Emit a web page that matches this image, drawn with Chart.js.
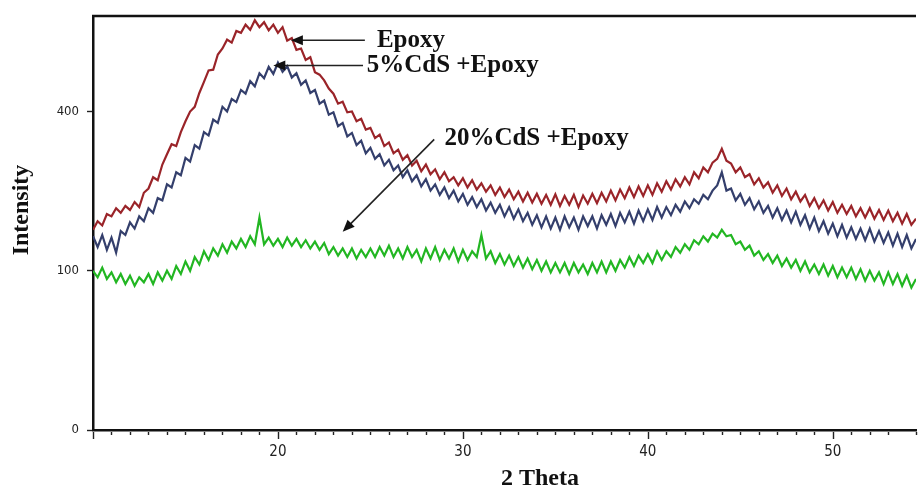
<!DOCTYPE html>
<html>
<head>
<meta charset="utf-8">
<script src="https://cdn.jsdelivr.net/npm/chart.js@4/dist/chart.umd.min.js"></script>
<style>
	body { margin: 0; background: #fff; }
	canvas { display: block; }
</style>
</head>
<body>
<canvas id="xrd-chart" width="921" height="490"></canvas>
<script>
// 2 Theta positions (deg)
var theta = [
	10,10.25,10.5,10.75, 11,11.25,11.5,11.75, 12,12.25,12.5,12.75, 13,13.25,13.5,13.75,
	14,14.25,14.5,14.75, 15,15.25,15.5,15.75, 16,16.25,16.5,16.75, 17,17.25,17.5,17.75,
	18,18.25,18.5,18.75, 19,19.25,19.5,19.75, 20,20.25,20.5,20.75, 21,21.25,21.5,21.75,
	22,22.25,22.5,22.75, 23,23.25,23.5,23.75, 24,24.25,24.5,24.75, 25,25.25,25.5,25.75,
	26,26.25,26.5,26.75, 27,27.25,27.5,27.75, 28,28.25,28.5,28.75, 29,29.25,29.5,29.75,
	30,30.25,30.5,30.75, 31,31.25,31.5,31.75, 32,32.25,32.5,32.75, 33,33.25,33.5,33.75,
	34,34.25,34.5,34.75, 35,35.25,35.5,35.75, 36,36.25,36.5,36.75, 37,37.25,37.5,37.75,
	38,38.25,38.5,38.75, 39,39.25,39.5,39.75, 40,40.25,40.5,40.75, 41,41.25,41.5,41.75,
	42,42.25,42.5,42.75, 43,43.25,43.5,43.75, 44,44.25,44.5,44.75, 45,45.25,45.5,45.75,
	46,46.25,46.5,46.75, 47,47.25,47.5,47.75, 48,48.25,48.5,48.75, 49,49.25,49.5,49.75,
	50,50.25,50.5,50.75, 51,51.25,51.5,51.75, 52,52.25,52.5,52.75, 53,53.25,53.5,53.75,
	54,54.25,54.5
];

// Intensity, Epoxy
var epoxy = [
	158,172,165,184, 180,194,186,198, 191,205,196,222, 230,252,246,278,
	300,322,318,350, 376,400,412,448, 478,510,512,556, 574,601,592,628,
	622,648,632,662, 640,656,630,648, 622,640,598,606, 570,574,540,548,
	505,498,482,460, 446,420,425,398, 400,376,382,356, 360,336,344,318,
	326,302,310,288, 298,276,286,264, 278,258,268,248, 262,244,252,236,
	250,232,246,228, 240,224,236,218, 232,214,228,210, 224,206,222,204,
	220,202,218,200, 219,198,216,200, 218,196,217,202, 220,203,222,206,
	226,208,228,212, 232,214,234,216, 236,218,240,224, 244,228,248,234,
	252,238,262,250, 272,262,282,290, 312,286,280,262, 272,252,258,238,
	250,232,242,222, 236,216,230,210, 224,206,218,198, 212,194,208,190,
	205,186,200,184, 198,180,194,178, 194,176,191,174, 190,172,186,168,
	184,166,176
];

// Intensity, 5%CdS +Epoxy
var cds5 = [
	148,132,150,128, 146,124,156,150, 170,160,180,172, 194,186,212,208,
	238,232,262,256, 292,284,320,312, 350,342,380,372, 412,400,432,424,
	456,446,480,466, 502,488,520,500, 532,506,522,490, 502,470,482,448,
	456,420,428,392, 398,364,372,340, 348,320,330,302, 314,290,300,276,
	288,266,276,252, 266,244,256,234, 248,226,238,218, 232,212,226,206,
	220,200,214,196, 210,190,204,186, 200,180,196,176, 192,172,186,166,
	182,162,180,160, 178,158,180,162, 178,158,180,164, 180,160,182,166,
	184,164,186,170, 188,168,190,172, 192,174,196,178, 196,182,200,188,
	206,194,210,202, 218,210,226,236, 262,226,230,208, 220,200,212,192,
	206,186,198,178, 194,174,190,170, 188,166,182,160, 178,156,172,152,
	168,148,166,146, 162,144,160,142, 160,140,156,138, 154,134,152,132,
	150,130,144
];

// Intensity, 20%CdS +Epoxy
var cds20 = [
	100,92,104,90, 98,86,96,84, 94,82,92,86, 96,84,98,88,
	100,90,106,96, 112,100,118,108, 126,114,130,120, 136,124,140,130,
	144,132,148,136, 178,136,146,134, 144,132,146,134, 144,132,142,130,
	140,128,138,122, 132,120,130,118, 130,116,128,118, 130,118,132,120,
	134,118,130,116, 132,118,128,112, 130,116,132,114, 128,116,130,112,
	128,114,126,118, 150,116,126,110, 122,108,120,106, 118,104,116,102,
	114,100,112,98, 110,98,110,96, 110,98,108,96, 110,98,112,98,
	112,100,114,104, 118,106,120,110, 122,110,126,114, 126,118,132,124,
	136,128,142,136, 148,140,152,146, 158,148,150,136, 140,128,134,120,
	126,114,122,110, 120,106,116,104, 114,100,112,98, 108,96,108,94,
	106,92,104,92, 104,90,102,88, 100,88,98,84, 98,84,96,82,
	94,80,90
];

var yTicks = [0, 100, 400];
var xTickLabels = [20, 30, 40, 50];

// labels with their arrows: [text, text theta, text intensity, arrow from theta, from intensity, tip theta, tip intensity]
var notes = [
	["Epoxy", 25.35, 599, 24.7, 599, 20.7, 599],
	["5%CdS +Epoxy", 24.8, 524, 24.6, 524, 19.75, 524],
	["20%CdS +Epoxy", 29.0, 335, 28.45, 333, 23.5, 155]
];

function toPoints(values){
	return values.map(function(v, i) {
		return { x: theta[i], y: Math.sqrt(v) };
	});
}

var narrow = "'Liberation Sans Narrow', 'DejaVu Sans Condensed', sans-serif";
var serif = "'Liberation Serif', 'DejaVu Serif', serif";

var framePlugin = {
	id: 'frame',
	afterDraw: function(chart){
		var ctx = chart.ctx;
		var area = chart.chartArea;
		var xs = chart.scales.x, ys = chart.scales.y;

		ctx.save();
		// top edge of the frame
		ctx.strokeStyle = '#111';
		ctx.lineWidth = 2.5;
		ctx.beginPath();
		ctx.moveTo(area.left - 1, area.top);
		ctx.lineTo(area.right, area.top);
		ctx.stroke();

		// x ticks below the axis line, long at every 10, short at every degree
		ctx.lineWidth = 1.4;
		ctx.strokeStyle = '#222';
		var y0 = area.bottom + 2;
		for (t of xs.ticks) {
			var px = Math.round(xs.getPixelForValue(t.value)) + 0.5;
			var len = (t.value % 10 === 0) ? 7 : 3;
			ctx.beginPath();
			ctx.moveTo(px, y0);
			ctx.lineTo(px, y0 + len);
			ctx.stroke();
		}

		// axis titles
		ctx.fillStyle = '#111';
		ctx.font = 'bold 24px ' + serif;
		ctx.textAlign = 'center';
		ctx.textBaseline = 'middle';
		ctx.fillText('2 Theta', 540, 479);
		ctx.save();
		ctx.translate(22, 210);
		ctx.rotate(-Math.PI / 2);
		ctx.fillText('Intensity', 0, 0);
		ctx.restore();

		// labels with arrows
		ctx.font = 'bold 25px ' + serif;
		ctx.textAlign = 'left';
		for (n of notes) {
			ctx.fillText(n[0], xs.getPixelForValue(n[1]), ys.getPixelForValue(Math.sqrt(n[2])));

			var x1 = xs.getPixelForValue(n[3]), y1 = ys.getPixelForValue(Math.sqrt(n[4]));
			var x2 = xs.getPixelForValue(n[5]), y2 = ys.getPixelForValue(Math.sqrt(n[6]));
			var a = Math.atan2(y2 - y1, x2 - x1);
			ctx.strokeStyle = '#222';
			ctx.lineWidth = 1.6;
			ctx.beginPath();
			ctx.moveTo(x1, y1);
			ctx.lineTo(x2 - 8 * Math.cos(a), y2 - 8 * Math.sin(a));
			ctx.stroke();
			ctx.beginPath();
			ctx.moveTo(x2, y2);
			ctx.lineTo(x2 - 12 * Math.cos(a) + 5 * Math.sin(a), y2 - 12 * Math.sin(a) - 5 * Math.cos(a));
			ctx.lineTo(x2 - 12 * Math.cos(a) - 5 * Math.sin(a), y2 - 12 * Math.sin(a) + 5 * Math.cos(a));
			ctx.closePath();
			ctx.fill();
		}
		ctx.restore();
	}
};

new Chart(document.getElementById("xrd-chart"), {
	type: 'line',
	data: {
		datasets: [
			{ label: "Epoxy", data: toPoints(epoxy), borderColor: '#9a2429', borderWidth: 2.2 },
			{ label: "5%CdS +Epoxy", data: toPoints(cds5), borderColor: '#343f6c', borderWidth: 2.2 },
			{ label: "20%CdS +Epoxy", data: toPoints(cds20), borderColor: '#22b622', borderWidth: 2.2 }
		]
	},
	options: {
		responsive: false,
		animation: false,
		layout: { padding: { top: 16, right: 0, left: 0, bottom: 0 } },
		elements: { point: { radius: 0 }, line: { tension: 0 } },
		plugins: { legend: { display: false }, tooltip: { enabled: false } },
		scales: {
			x: {
				type: 'linear',
				min: 10,
				max: 54.5,
				afterFit: function(scale){ scale.height = 60; },
				border: { display: true, color: '#111', width: 2.5 },
				grid: { drawOnChartArea: false, tickLength: 8, tickColor: 'rgba(0,0,0,0)' },
				ticks: {
					stepSize: 1,
					autoSkip: false,
					maxRotation: 0,
					padding: 5,
					color: '#222',
					font: { family: narrow, size: 15 },
					callback: function(v){
						return xTickLabels.indexOf(v) >= 0 ? String(v) : '';
					}
				}
			},
			y: {
				type: 'linear',
				min: 0,
				max: 26,
				afterFit: function(scale){ scale.width = 93; },
				afterBuildTicks: function(scale){
					scale.ticks = yTicks.map(function(t){ return { value: Math.sqrt(t) }; });
				},
				border: { display: true, color: '#111', width: 2.5 },
				grid: { drawOnChartArea: false, tickLength: 6, tickColor: '#222', tickWidth: 1.4 },
				ticks: {
					padding: 8,
					color: '#222',
					font: { family: narrow, size: 13 },
					callback: function(v){ return String(Math.round(v * v)); }
				}
			}
		}
	},
	plugins: [framePlugin]
});
</script>
</body>
</html>
